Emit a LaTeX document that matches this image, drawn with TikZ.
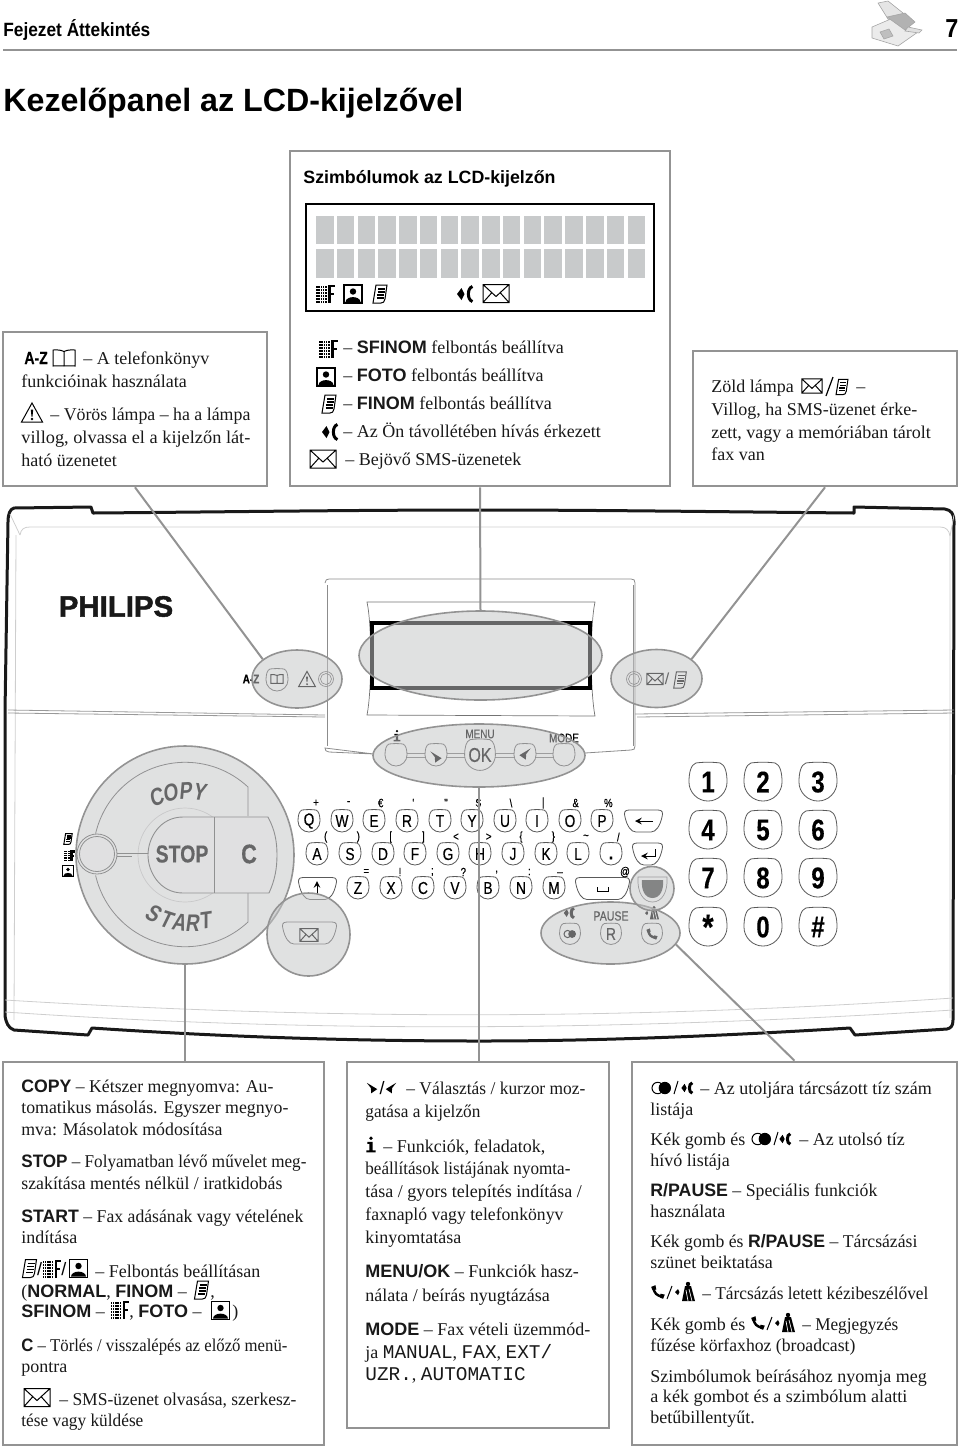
\documentclass[tikz,border=0pt]{standalone}
\usepackage{fontspec}
\setmainfont{Liberation Serif}
\setsansfont{Liberation Sans}
\newfontfamily\keyfont[FakeStretch=0.8,FakeBold=0.3]{Liberation Sans}
\newfontfamily\dialfont[FakeStretch=0.8,FakeSlant=0.14]{Liberation Sans}
\newfontfamily\headfont[FakeStretch=0.9]{Liberation Sans}
\newfontfamily\brandfont[BoldFeatures={FakeBold=1.6}]{Liberation Sans}
\newfontfamily\lcdfont{Liberation Mono}
\usetikzlibrary{shapes.geometric}
\definecolor{boxgrey}{HTML}{939393}
\definecolor{cellgrey}{HTML}{C8CACB}
\definecolor{hilite}{HTML}{C4C5C6}
\definecolor{faint}{HTML}{CECECE}
\newcommand{\hd}[1]{{\sffamily\bfseries #1}}
\newcommand{\lcd}[1]{{\lcdfont\fontsize{9.7}{11}\selectfont #1}}
\newcommand{\fitto}[2]{\resizebox{#1pt}{\height}{#2}}
\tikzset{
  bodyline/.style={anchor=base west, inner sep=0pt, font=\fontsize{9}{11}\selectfont, text=black!90},
  headline/.style={anchor=base west, inner sep=0pt, font=\sffamily\bfseries},
  infobox/.style={draw=boxgrey, line width=1.3pt, fill=white, inner sep=0pt},
  hiliteshape/.style={draw=boxgrey, line width=.8pt, fill=hilite, fill opacity=.52, inner sep=0pt},
  wire/.style={draw=boxgrey, line width=1pt},
  iconline/.style={line width=.5pt, black},
  keyline/.style={draw=black!65, line width=.4pt},
  keytext/.style={inner sep=0pt, font=\keyfont\fontsize{8.6}{9}\selectfont},
  symtext/.style={inner sep=0pt, font=\keyfont\fontsize{6}{7}\selectfont},
  padtext/.style={inner sep=0pt, font=\keyfont\bfseries\fontsize{15}{16}\selectfont},
  dialtext/.style={inner sep=0pt, font=\dialfont\bfseries\fontsize{12}{13}\selectfont},
  % icons, drawn around (0,0)
  pics/mailicon/.style={code={
    \draw[iconline] (-13,-9) rectangle (13,9) (-13,-9) -- (0,3) -- (13,-9) (-13,9) -- (-4,-1) (13,9) -- (4,-1);}},
  pics/portraiticon/.style={code={
    \draw[black, line width=.8pt] (-9,-9) rectangle (9,9);
    \fill[black] (0,-2.5) circle[radius=3.2];
    \fill[black] (-7.5,8) .. controls (-7,1.5) and (7,1.5) .. (7.5,8) -- cycle;}},
  pics/pageicon/.style={code={
    \draw[iconline] (-4,-9) -- (7,-9) -- (5,5) .. controls (4.5,8) and (3,9) .. (1,9) -- (-7,9) -- cycle;
    \draw[iconline, line width=.7pt] (-2,-5) -- (5,-5) (-2.5,-2) -- (4.5,-2) (-3,1) -- (4,1) (-3.5,4) -- (3.5,4);}},
  pics/sfineicon/.style={code={
    \foreach \col in {0,...,4}{\foreach \row in {0,...,5}{
      \fill[black] (-9+2.3*\col,-8+3*\row) rectangle +(1.5,1.5);}}
    \draw[black, line width=1.4pt] (4.5,8.5) -- (4.5,-8) -- (9.5,-8) (4.5,0) -- (8.5,0);}},
  pics/phoneicon/.style={code={
    \fill[black] (-8,0) -- (-3.5,-6) -- (-.5,0) -- (-3.5,6) -- cycle;
    \draw[black, line width=1.5pt] (7.5,-7.5) .. controls (2,-6) and (2,6) .. (7.5,7.5);}},
  pics/warnicon/.style={code={
    \draw[iconline] (0,-9.5) -- (10.5,9.5) -- (-10.5,9.5) -- cycle;
    \fill[black] (-1.2,-3) -- (1.2,-3) -- (.5,4) -- (-.5,4) -- cycle;
    \fill[black] (0,6.5) circle[radius=1.3];}},
  pics/bookicon/.style={code={
    \draw[iconline] (0,-6.5) .. controls (-4,-8.5) and (-7,-8) .. (-11,-8) -- (-11,8) .. controls (-7,8) and (-4,7.5) .. (0,8) .. controls (4,7.5) and (7,8) .. (11,8) -- (11,-8) .. controls (7,-8) and (4,-8.5) .. (0,-6.5) -- (0,8);}},
  pics/handseticon/.style={code={
    \draw[black, line width=1.2pt] (-5,-5) .. controls (-5,1) and (-1,5) .. (5,5);
    \fill[black] (-8,-6) -- (-3,-8) -- (-2,-3) -- (-6.5,-2) -- cycle;
    \fill[black] (6,8) -- (8,3) -- (3,2) -- (2,6.5) -- cycle;}},
  pics/redialicon/.style={code={
    \draw[iconline] (-4,0) circle[radius=6];
    \fill[black] (3.5,0) circle[radius=6.5];}},
  pics/manicon/.style={code={
    \fill[black] (-10,0) -- (-7,-3) -- (-5.5,0) -- (-7,3) -- cycle;
    \fill[black] (3,-8) circle[radius=2.2];
    \fill[black] (0,-6) -- (6,-6) -- (10,9) -- (-3,9) -- cycle;
    \draw[white, line width=.35pt] (1,-2) -- (3,9) (4,-3) -- (7,9);}},
  pics/arrowicon/.style={code={
    \fill[black] (-7,-7) -- (7,1.5) -- (-1,7) -- (-1.5,0) -- cycle;}},
  pics/infoicon/.style={code={
    \fill[black] (0,-6.5) circle[radius=1.8];
    \fill[black] (-3.5,-3) -- (1.5,-3) -- (1.5,5) -- (4.5,5) -- (4.5,7) -- (-4.5,7) -- (-4.5,5) -- (-1.5,5) -- (-1.5,-1) -- (-3.5,-1) -- cycle;}},
  % panel keys
  pics/keycap/.style={code={
    \draw[keyline] (-7,-11) .. controls (-2,-11.6) and (2,-11.6) .. (7,-11) .. controls (10,-10) and (11,-5) .. (11,0)
      .. controls (11,6) and (6,11) .. (0,11) .. controls (-6,11) and (-11,6) .. (-11,0) .. controls (-11,-5) and (-10,-10) .. (-7,-11) -- cycle;}},
  pics/widekey/.style={code={
    \draw[keyline] (-#1+5,-11) -- (#1-5,-11) .. controls (#1,-11) and (#1,-8) .. (#1-1,-4) .. controls (#1-3,5) and (#1-7,11) .. (#1-12,11)
      -- (-#1+12,11) .. controls (-#1+7,11) and (-#1+3,5) .. (-#1+1,-4) .. controls (-#1,-8) and (-#1,-11) .. (-#1+5,-11) -- cycle;}}
}
\begin{document}
\begin{tikzpicture}[x=.5pt, y=-.5pt]
  \useasboundingbox (0,0) rectangle (960,1447);
  % page header
  \node[headline, font=\headfont\bfseries\fontsize{9.6}{11}\selectfont] (chapter) at (3,36) {Fejezet Áttekintés};
  \node[headline, font=\headfont\bfseries\fontsize{13}{14}\selectfont] (pageno) at (945,37) {7};
  \draw[boxgrey, line width=1.4pt] (3,50) -- (957,50);
  \node[headline, font=\sffamily\bfseries\fontsize{16.1}{18}\selectfont] (title) at (3,111) {Kezelőpanel az LCD-kijelzővel};
  % small fax in the header
  \begin{scope}[draw=black!35, line width=.3pt]
    \draw[fill=black!10] (878,3) -- (888,1) -- (908,17) -- (893,27) -- cycle;
    \draw[fill=black!8] (872,27) -- (893,18) -- (918,32) -- (898,46) -- (872,38) -- cycle;
    \draw[fill=black!30] (887,17) -- (905,13) -- (915,22) -- (905,30) -- cycle;
    \draw[fill=black!25] (880,32) -- (889,29) -- (893,36) -- (884,39) -- cycle;
    \draw[fill=black!12] (908,27) -- (922,30) -- (919,33) -- (905,31) -- cycle;
  \end{scope}

  % panel outline
  \draw[black!90, line width=1.5pt, line join=round] (93,513) .. controls (220,512) and (350,510) .. (480,510)
    .. controls (600,510) and (740,512) .. (854,513) -- (854,507) -- (945,509) .. controls (951,510) and (954,514) .. (954,521)
    -- (953,1020) .. controls (953,1026) and (951,1028) .. (947,1029) -- (855,1035) -- (850,1028)
    .. controls (720,1036) and (600,1041) .. (480,1041) .. controls (340,1041) and (210,1036) .. (92,1028)
    -- (88,1035) -- (14,1030) .. controls (8,1028) and (6,1022) .. (5,1016) -- (5,712) -- (8,522) .. controls (8,514) and (10,509) .. (14,508) -- (91,507) -- cycle;
  % faint moulding lines
  \draw[faint, line width=.4pt] (20,535) .. controls (21,529) and (24,527) .. (30,527) -- (940,527) .. controls (946,527) and (949,530) .. (950,536) -- (950,1018);
  \draw[faint, line width=.4pt] (16,535) -- (14,1020) (10,514) -- (20,535) (954,515) -- (950,536);
  \draw[faint, line width=.4pt] (5,1000) .. controls (300,1018) and (600,1022) .. (953,998) (5,1012) .. controls (300,1032) and (600,1032) .. (953,1010);
  \draw[black!40, line width=.4pt] (8,710) -- (325,715) (8,713) -- (325,717) (635,714) -- (954,710) (637,717) -- (954,713);
  % display bezel
  \draw[black!45, line width=.4pt] (325,583) .. controls (325,580) and (327,579) .. (329,579) -- (631,579) .. controls (634,579) and (635,580) .. (635,583) -- (635,746)
    .. controls (635,749) and (634,750) .. (631,750) -- (585,753) (374,754) -- (329,752) .. controls (326,752) and (325,750) .. (325,748) -- cycle;
  \draw[black!45, line width=.35pt] (327,585) -- (327,746) (633,585) -- (633,746);
  \draw[black!55, line width=.35pt] (367,602) -- (595,602) .. controls (590,625) and (590,690) .. (595,716) -- (367,715) .. controls (372,690) and (372,625) .. (367,602) -- cycle;
  \draw[black, line width=1.9pt] (372,623) rectangle (590,688);
  % lamps and symbols beside the display
  \node[inner sep=0pt, font=\keyfont\bfseries\fontsize{6.2}{7}\selectfont] (azlabel) at (251,679) {A-Z};
  \pic at (277,680) {keycap};
  \pic[scale=.55] at (277,679) {bookicon};
  \pic[scale=.8] at (307,679) {warnicon};
  \draw[black!60, line width=.35pt] (326,679) circle[radius=7.5] (326,679) circle[radius=5.5];
  \draw[black!60, line width=.35pt] (634,679) circle[radius=7.5] (634,679) circle[radius=5.5];
  \pic[scale=.62] at (655,679) {mailicon};
  \node[inner sep=0pt, font=\sffamily\fontsize{8}{9}\selectfont] (lampslash) at (667,679) {/};
  \pic[scale=.9] at (680,680) {pageicon};
  \node[inner sep=0pt, font=\brandfont\bfseries\fontsize{14.7}{16}\selectfont, text=black!90] (brand) at (116,606.5) {PHILIPS};

  % menu row
  \draw[black!55, line width=.35pt] (407,753) -- (425,753) (407,757) -- (425,757) (447,753) -- (465,753) (447,757) -- (465,757) (495,753) -- (514,753) (495,757) -- (514,757) (536,753) -- (553,753) (536,757) -- (553,757);
  \foreach \bx in {396,436,525,564}{\pic at (\bx,755) {keycap};}
  \pic[scale=1.4] at (480,755) {keycap};
  \pic[scale=.75] at (397,736) {infoicon};
  \pic[scale=.8] at (436,757) {arrowicon};
  \pic[xscale=-.8, yscale=.8] at (525,754) {arrowicon};
  \node[keytext, font=\keyfont\fontsize{10}{11}\selectfont] (okbutton) at (480,755) {OK};
  \node[keytext, font=\keyfont\fontsize{6.2}{7}\selectfont] (menulabel) at (480,734) {MENU};
  \node[keytext, font=\keyfont\fontsize{6.2}{7}\selectfont] (modelabel) at (564,738) {MODE};

  % keyboard
  \foreach \k/\x in {Q/309,W/342,E/374,R/407,T/440,Y/472,U/505,I/537,O/570,P/602}{
    \pic at (\x,821) {keycap};
    \node[keytext] (key\k) at (\x,821) {\k};}
  \foreach \k/\x in {A/317,S/350,D/383,F/415,G/448,H/480,J/513,K/546,L/578}{
    \pic at (\x,854) {keycap};
    \node[keytext] (key\k) at (\x,854) {\k};}
  \foreach \k/\x in {Z/358,X/391,C/423,V/455,B/488,N/521,M/554}{
    \pic at (\x,888) {keycap};
    \node[keytext] (key\k) at (\x,888) {\k};}
  \pic at (611,854) {keycap};
  \node[keytext, font=\keyfont\bfseries\fontsize{9}{9}\selectfont] (keydot) at (611,858) {.};
  \pic at (643.5,821) {widekey=19.5};
  \pic at (647.5,854) {widekey=15.5};
  \pic at (317.5,888.5) {widekey=19.5};
  \pic at (602.5,888.5) {widekey=27.5};
  \draw[black, line width=.5pt, ->, >=stealth] (653,821) -- (635,821);
  \draw[black, line width=.5pt, ->, >=stealth] (655,849) -- (655,856) -- (641,856);
  \draw[black, line width=.5pt, ->, >=stealth] (317,895) -- (317,881);
  \draw[black, line width=.5pt] (597,887) -- (597,891) -- (608,891) -- (608,887);
  % symbols above the keys
  \foreach \s/\x [count=\i] in {{+}/78,{-}/176,{€}/272,{'}/370,{"}/468,{\$}/565,{\textbackslash}/663,{|}/760,{\&}/857,{\%}/955}{
    \node[symtext] (symtop\i) at (290+\x/3,803) {\s};}
  \foreach \s/\x [count=\i] in {{(}/107,{)}/205,{[}/302,{]}/400,{<}/498,{>}/596,{\{}/693,{\}}/790,{\textasciitilde}/888,{/}/985}{
    \node[symtext] (symmid\i) at (290+\x/3,837) {\s};}
  \foreach \s/\x [count=\i] in {{=}/229,{!}/330,{;}/427,{?}/520,{,}/620,{:}/718,{\_}/810,{@}/1005}{
    \node[symtext] (symlow\i) at (290+\x/3,872) {\s};}
  % number pad
  \foreach \dgt/\x/\y [count=\i] in {1/708/782,2/763/782,3/818/782,4/708/830,5/763/830,6/818/830,7/708/878,8/763/878,9/818/878,{\raisebox{-3.5pt}{\fontsize{18}{18}\selectfont *}}/708/927,0/763/927,\#/818/927}{
    \pic[scale=1.73] at (\x,\y) {keycap};
    \node[padtext] (pad\i) at (\x,\y) {\dgt};}
  % redial row and blue button
  \foreach \bx in {570,611,652}{\pic[scale=.95] at (\bx,934) {keycap};}
  \pic[scale=.6] at (570,934) {redialicon};
  \pic[scale=.7] at (652,934) {handseticon};
  \node[keytext] (keyR) at (611,934) {R};
  \node[keytext, font=\keyfont\fontsize{6.6}{7}\selectfont] (pauselabel) at (611,916) {PAUSE};
  \pic[scale=.65] at (569,913) {phoneicon};
  \pic[scale=.7] at (652,913) {manicon};
  \fill[black!75] (642,880) -- (663,880) .. controls (664,890) and (660,898) .. (652.5,898) .. controls (645,898) and (641,890) .. (642,880) -- cycle;
  \draw[black!55, line width=.35pt] (638,877) -- (667,877) .. controls (668,892) and (662,902) .. (652.5,902) .. controls (643,902) and (637,892) .. (638,877) -- cycle;
  \pic at (309.5,933) {widekey=27.5};
  \pic[scale=.7] at (309,935) {mailicon};

  % copy / stop / start dial
  \draw[black!65, line width=.4pt] (248,816) -- (248,787) arc[start angle=-47, end angle=-167, radius=92];
  \draw[black!65, line width=.4pt] (248,893) -- (248,922) arc[start angle=47, end angle=167, radius=92];
  \draw[faint, line width=.35pt] (185,855) circle[radius=47];
  \draw[black!65, line width=.45pt, fill=white] (183,817) .. controls (160,817) and (148,838) .. (148,855) .. controls (148,872) and (160,893) .. (183,893)
    -- (269,893) .. controls (275,880) and (277,868) .. (277,855) .. controls (277,842) and (275,830) .. (268,817) -- cycle;
  \draw[black!65, line width=.4pt] (214,817) -- (214,893) (117,853) -- (148,853) (117,856) -- (132,856);
  \draw[black!65, line width=.4pt, fill=white] (97,854) circle[radius=20] (97,854) circle[radius=17.5];
  \foreach \ch/\x/\y/\rot [count=\i] in {C/156/797/20,O/170/793/12,P/185/791/3,Y/199/792/-6}{
    \node[dialtext, rotate=\rot] (copy\i) at (\x,\y) {\ch};}
  \foreach \ch/\x/\y/\rot [count=\i] in {S/153/913/-28,T/166/919/-18,A/179/922/-8,R/192/923/0,T/205/920/8}{
    \node[dialtext, rotate=\rot] (start\i) at (\x,\y) {\ch};}
  \node[dialtext, font=\keyfont\bfseries\fontsize{12.2}{13}\selectfont] (stoplabel) at (182,854) {STOP};
  \node[dialtext, font=\keyfont\bfseries\fontsize{13.5}{14}\selectfont] (clabel) at (249,854) {C};
  \pic[scale=.6] at (68,839) {pageicon};
  \pic[scale=.6] at (69,856) {sfineicon};
  \pic[scale=.6] at (68,871) {portraiticon};

  % highlighted groups
  \node[hiliteshape, ellipse, minimum width=45pt, minimum height=29pt] (ellAZ) at (297,679) {};
  \node[hiliteshape, ellipse, minimum width=121.5pt, minimum height=44.5pt] (ellLCD) at (480.5,655.5) {};
  \node[hiliteshape, ellipse, minimum width=45.5pt, minimum height=29pt] (ellLamp) at (656.5,678.5) {};
  \node[hiliteshape, ellipse, minimum width=106pt, minimum height=31.5pt] (ellMenu) at (479,755.5) {};
  \node[hiliteshape, ellipse, minimum width=69.5pt, minimum height=31pt] (ellRedial) at (610.5,933) {};
  \node[hiliteshape, circle, minimum size=109pt] (ellDial) at (185,855) {};
  \node[hiliteshape, circle, minimum size=41.5pt] (ellMail) at (308.5,934.5) {};
  \node[hiliteshape, circle, minimum size=22pt] (ellBlue) at (652,888.5) {};

  % info boxes
  \node[infobox, minimum width=132pt, minimum height=77pt] (boxAZ) at (135,409) {};
  \node[infobox, minimum width=190pt, minimum height=167.5pt] (boxLCD) at (480,318.5) {};
  \node[infobox, minimum width=132pt, minimum height=67.5pt] (boxLamp) at (825,418.5) {};
  \node[infobox, minimum width=160.5pt, minimum height=191.5pt] (boxLeft) at (163.5,1253.5) {};
  \node[infobox, minimum width=131pt, minimum height=183pt] (boxMid) at (478,1245) {};
  \node[infobox, minimum width=162.5pt, minimum height=191.5pt] (boxRight) at (794.5,1253.5) {};
  % connectors
  \draw[wire] (boxAZ.south) -- (ellAZ.150);
  \draw[wire] (boxLCD.south) -- (ellLCD.north);
  \draw[wire] (boxLamp.south) -- (ellLamp.29);
  \draw[wire] (ellDial.south) -- (ellDial.south |- boxLeft.north);
  \draw[wire] (ellMenu.south) -- (ellMenu.south |- boxMid.north);
  \draw[wire] (ellRedial.-10) -- (boxRight.north);

  % LCD symbols box
  \node[headline, font=\sffamily\bfseries\fontsize{8.9}{10}\selectfont] (lcdtitle) at (303,183) {Szimbólumok az LCD-kijelzőn};
  \draw[black, line width=.8pt] (306,204) rectangle (654,311);
  \foreach \c in {0,...,15}{
    \fill[cellgrey] (316+20.77*\c,216) rectangle +(17.5,28);
    \fill[cellgrey] (316+20.77*\c,249) rectangle +(17.5,29);}
  \pic at (325,294) {sfineicon};
  \pic at (353,294) {portraiticon};
  \pic at (380,294) {pageicon};
  \pic at (465,294) {phoneicon};
  \pic at (496,293.5) {mailicon};
  \pic at (328,349) {sfineicon};
  \pic at (326,377) {portraiticon};
  \pic at (329,404) {pageicon};
  \pic at (330,432) {phoneicon};
  \pic at (323,459) {mailicon};
  \foreach \nm/\x/\y/\txt in {lcdA/343/353/{– \hd{SFINOM} felbontás beállítva},
    lcdB/343/381/{– \hd{FOTO} felbontás beállítva},
    lcdC/343/409/{– \hd{FINOM} felbontás beállítva},
    lcdD/343/437/{– Az Ön távollétében hívás érkezett},
    lcdE/345/465/{– Bejövő SMS-üzenetek}}{
    \node[bodyline] (\nm) at (\x,\y) {\txt};}

  % phone book box
  \node[inner sep=0pt, anchor=base west, font=\keyfont\bfseries\fontsize{8.8}{10}\selectfont] (azicon) at (24,364) {A-Z};
  \pic at (64,358) {bookicon};
  \pic at (32,412.5) {warnicon};
  \foreach \nm/\x/\y/\txt in {azA/83/364/{– A telefonkönyv},
    azB/21/387/{funkcióinak használata},
    azC/50/420/{\fitto{100}{– Vörös lámpa – ha a lámpa}},
    azD/21/443/{\fitto{114.5}{villog, olvassa el a kijelzőn lát-}},
    azE/21/466/{ható üzenetet}}{
    \node[bodyline] (\nm) at (\x,\y) {\txt};}

  % lamp box
  \pic[scale=.78] at (812,386) {mailicon};
  \draw[black, line width=.6pt] (826,396) -- (833,377);
  \pic[scale=.85] at (842,387) {pageicon};
  \foreach \nm/\x/\y/\txt in {lampA/711/392/{Zöld lámpa},
    lampB/856/392/{–},
    lampC/711/415/{Villog, ha SMS-üzenet érke-},
    lampD/711/438/{zett, vagy a memóriában tárolt},
    lampE/711/460/{fax van}}{
    \node[bodyline] (\nm) at (\x,\y) {\txt};}

  % left text box
  \pic at (29.5,1268.5) {pageicon};
  \node[inner sep=0pt, font=\sffamily\fontsize{9}{10}\selectfont] (slashA) at (39.5,1269) {/};
  \pic at (51.5,1269) {sfineicon};
  \node[inner sep=0pt, font=\sffamily\fontsize{9}{10}\selectfont] (slashB) at (64,1269) {/};
  \pic at (78.5,1268.5) {portraiticon};
  \pic at (201.5,1290) {pageicon};
  \pic at (119.5,1310) {sfineicon};
  \pic at (220.5,1310.5) {portraiticon};
  \pic at (37,1397.5) {mailicon};
  \foreach \nm/\x/\y/\txt in {leftA/21/1092/{\fitto{126}{\hd{COPY} – Kétszer megnyomva: Au-}},
    leftB/21/1113/{\fitto{133.5}{tomatikus másolás. Egyszer megnyo-}},
    leftC/21/1135/{\fitto{100.5}{mva: Másolatok módosítása}},
    leftD/21/1167/{\fitto{142.5}{\hd{STOP} – Folyamatban lévő művelet meg-}},
    leftE/21/1189/{\fitto{130.5}{szakítása mentés nélkül / iratkidobás}},
    leftF/21/1222/{\fitto{141}{\hd{START} – Fax adásának vagy vételének}},
    leftG/21/1243/{indítása},
    leftH/95/1277/{– Felbontás beállításan},
    leftI/21/1297/{(\hd{NORMAL}, \hd{FINOM} –},
    leftJ/210/1297/{,},
    leftK/21/1317/{\hd{SFINOM} –},
    leftL/129/1317/{, \hd{FOTO} –},
    leftM/232/1317/{)},
    leftN/21/1351/{\fitto{133}{\hd{C} – Törlés / visszalépés az előző menü-}},
    leftO/21/1372/{pontra},
    leftP/59/1405/{\fitto{118.5}{– SMS-üzenet olvasása, szerkesz-}},
    leftQ/21/1426/{\fitto{61}{tése vagy küldése}}}{
    \node[bodyline] (\nm) at (\x,\y) {\txt};}

  % middle text box
  \pic[scale=.75] at (372,1088) {arrowicon};
  \node[inner sep=0pt, font=\sffamily\fontsize{9}{10}\selectfont] (slashC) at (382,1088.5) {/};
  \pic[xscale=-.75, yscale=.75] at (391,1088) {arrowicon};
  \pic[scale=1.05] at (371,1145) {infoicon};
  \foreach \nm/\x/\y/\txt in {midA/406/1094/{\fitto{89.5}{– Választás / kurzor moz-}},
    midB/365/1117/{\fitto{57.5}{gatása a kijelzőn}},
    midC/383/1152/{– Funkciók, feladatok,},
    midD/365/1174/{\fitto{102.5}{beállítások listájának nyomta-}},
    midE/365/1197/{tása / gyors telepítés indítása /},
    midF/365/1220/{\fitto{99}{faxnapló vagy telefonkönyv}},
    midG/365/1243/{kinyomtatása},
    midH/365/1277/{\hd{MENU/OK} – Funkciók hasz-},
    midI/365/1301/{nálata / beírás nyugtázása},
    midJ/365/1335/{\hd{MODE} – Fax vételi üzemmód-},
    midK/365/1358/{ja \lcd{MANUAL}, \lcd{FAX}, \lcd{EXT/}},
    midL/365/1380/{\lcd{UZR.}, \lcd{AUTOMATIC}}}{
    \node[bodyline] (\nm) at (\x,\y) {\txt};}

  % right text box
  \pic[scale=.95] at (661.5,1088) {redialicon};
  \draw[black, line width=.5pt] (674,1094) -- (678,1081);
  \pic[scale=.7] at (687,1088) {phoneicon};
  \pic[scale=.95] at (761.5,1139) {redialicon};
  \draw[black, line width=.5pt] (774,1145) -- (778,1132);
  \pic[scale=.7] at (785,1139) {phoneicon};
  \pic[scale=.85] at (658,1292) {handseticon};
  \draw[black, line width=.5pt] (667,1299) -- (672,1286);
  \pic at (685,1292) {manicon};
  \pic[scale=.85] at (758,1323) {handseticon};
  \draw[black, line width=.5pt] (767,1330) -- (772,1317);
  \pic at (785,1323) {manicon};
  \foreach \nm/\x/\y/\txt in {rightA/700/1094/{– Az utoljára tárcsázott tíz szám},
    rightB/650/1115/{listája},
    rightC/650/1145/{Kék gomb és},
    rightD/799/1145/{– Az utolsó tíz},
    rightE/650/1166/{hívó listája},
    rightF/650/1196/{\fitto{113.5}{\hd{R/PAUSE} – Speciális funkciók}},
    rightG/650/1217/{használata},
    rightH/650/1247/{\fitto{133.5}{Kék gomb és \hd{R/PAUSE} – Tárcsázási}},
    rightI/650/1268/{szünet beiktatása},
    rightJ/702/1299/{\fitto{113}{– Tárcsázás letett kézibeszélővel}},
    rightK/650/1330/{Kék gomb és},
    rightL/802/1330/{\fitto{48}{– Megjegyzés}},
    rightM/650/1351/{\fitto{102.5}{fűzése körfaxhoz (broadcast)}},
    rightN/650/1382/{Szimbólumok beírásához nyomja meg},
    rightO/650/1402/{\fitto{128.5}{a kék gombot és a szimbólum alatti}},
    rightP/650/1423/{betűbillentyűt.}}{
    \node[bodyline] (\nm) at (\x,\y) {\txt};}
\end{tikzpicture}
\end{document}
